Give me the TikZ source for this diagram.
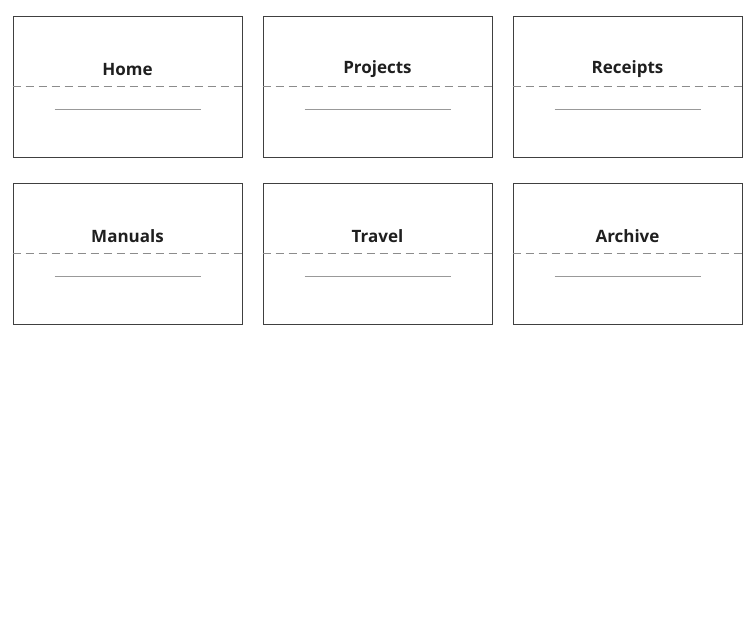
\documentclass[tikz,border=0pt]{standalone}
\usepackage{fontspec}
\setmainfont{Open Sans}
\begin{document}
\begin{tikzpicture}[x=1pt,y=-1pt,
  card/.style={draw=black!75,line width=0.9pt,minimum width=229pt,minimum height=141pt,inner sep=0pt},
  sep/.style={draw=black!45,dash pattern=on 8pt off 5pt,line width=1pt},
  rule/.style={draw=black!40,line width=0.8pt},
  lbl/.style={font=\bfseries\fontsize{17}{20}\selectfont,text=black!88}]
\useasboundingbox (0,0) rectangle (756,629);
\foreach \n/\t/\cx/\cy in {a/Home/127.5/86.5,b/Projects/377.5/86.5,c/Receipts/627.5/86.5,d/Manuals/127.5/253.5,e/Travel/377.5/253.5,f/Archive/627.5/253.5}{
  \node[card] (\n) at (\cx,\cy) {};
  \node[lbl] (\n-t) at (\cx,\cy-17) {\t};
  \draw[sep] (\n.west) -- (\n.east);
  \coordinate (\n-l1) at (\cx-73,\cy+22.5);
  \coordinate (\n-l2) at (\cx+73,\cy+22.5);
  \draw[rule] (\n-l1) -- (\n-l2);
}
\end{tikzpicture}
\end{document}
